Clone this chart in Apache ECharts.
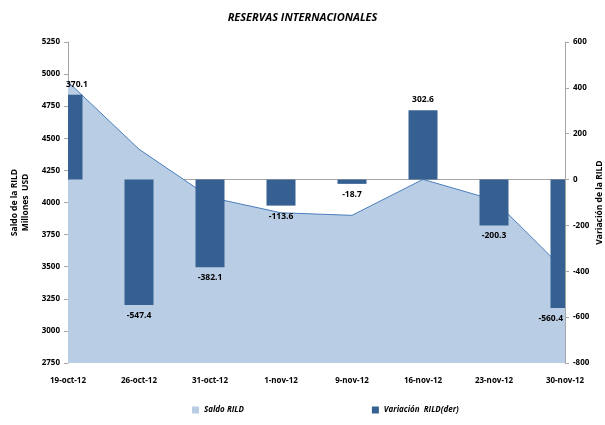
<!DOCTYPE html>
<html>
<head>
<meta charset="utf-8">
<script src="https://cdn.jsdelivr.net/npm/echarts@6/dist/echarts.min.js"></script>
<style>
  html, body { margin: 0; padding: 0; background: #fff; }
  #chart { width: 605px; height: 425px; }
</style>
</head>
<body>
<div id="chart"></div>
<script>
// fechas del eje x
var fechas = ['19-oct-12', '26-oct-12', '31-oct-12', '1-nov-12', '9-nov-12', '16-nov-12', '23-nov-12', '30-nov-12'];
// saldo de la RILD, millones USD (eje izq)
var saldo = [4940, 4415, 4040, 3920, 3900, 4180, 4020, 3470];
// variacion de la RILD (eje der)
var variacion = [370.1, -547.4, -382.1, -113.6, -18.7, 302.6, -200.3, -560.4];

var fontFam = '"Open Sans", "Liberation Sans", sans-serif';
var barColor = '#376092';

// barras como serie custom para poder recortarlas al borde del grid (como en Excel)
function renderBar(params, api) {
    var idx = api.value(0);
    var val = api.value(1);
    var base = api.coord([idx, 0]);
    var end = api.coord([idx, val]);
    var w = 29;
    var cs = params.coordSys;
    var full = {
        x: base[0] - w / 2,
        y: Math.min(base[1], end[1]),
        width: w,
        height: Math.abs(end[1] - base[1])
    };
    var rect = echarts.graphic.clipRectByRect(full, { x: cs.x, y: cs.y, width: cs.width, height: cs.height });
    if (!rect) return;
    // etiqueta: centrada, salvo en barras recortadas donde se pega al borde
    var tx = rect.x + rect.width / 2;
    var align = 'center';
    if (full.x < cs.x) { tx = cs.x - 2; align = 'left'; }
    if (full.x + full.width > cs.x + cs.width) { tx = cs.x + cs.width - 2; align = 'right'; }
    var ty = val >= 0 ? rect.y - 6 : rect.y + rect.height + 6;
    return {
        type: 'group',
        children: [
            {
                type: 'rect',
                shape: rect,
                style: { fill: barColor }
            },
            {
                type: 'text',
                x: tx,
                y: ty,
                style: {
                    text: val.toFixed(1),
                    fill: '#000',
                    font: 'bold 8.5px ' + fontFam,
                    align: align,
                    verticalAlign: val >= 0 ? 'bottom' : 'top'
                },
                z2: 10
            }
        ]
    };
}

var option = {
    animation: false,
    title: {
        text: 'RESERVAS INTERNACIONALES',
        left: 'center',
        top: 7,
        textStyle: { fontSize: 11, fontWeight: 'bold', fontStyle: 'italic', fontFamily: fontFam, color: '#000' }
    },
    legend: {
        bottom: 6,
        left: 187,
        itemGap: 128,
        itemWidth: 7,
        itemHeight: 7,
        icon: 'rect',
        textStyle: { fontSize: 8, fontStyle: 'italic', fontWeight: 'bold', fontFamily: fontFam, color: '#000' },
        data: ['Saldo RILD', 'Variación  RILD(der)']
    },
    grid: { left: 68, right: 40, top: 42, bottom: 62, outerBoundsMode: 'none' },
    xAxis: {
        type: 'category',
        data: fechas,
        boundaryGap: false,
        axisLine: { lineStyle: { color: '#a6a6a6', width: 1 } },
        axisTick: { show: true, length: 4, lineStyle: { color: '#a6a6a6' } },
        axisLabel: { margin: 14, fontSize: 8, fontWeight: 'bold', fontFamily: fontFam, color: '#000' }
    },
    yAxis: [
        {
            type: 'value',
            min: 2750,
            max: 5250,
            interval: 250,
            name: 'Saldo de la RILD\nMillones  USD',
            nameLocation: 'middle',
            nameGap: 37,
            nameRotate: 90,
            nameTextStyle: { fontSize: 8.5, fontWeight: 'bold', fontFamily: fontFam, color: '#000', lineHeight: 11 },
            axisLine: { show: true, lineStyle: { color: '#a6a6a6' } },
            axisTick: { show: true, length: 4, lineStyle: { color: '#a6a6a6' } },
            axisLabel: {
                margin: 8, fontSize: 8, fontWeight: 'bold', fontFamily: fontFam, color: '#000',
                formatter: function (v) { return String(v); }
            },
            splitLine: { show: false }
        },
        {
            type: 'value',
            min: -800,
            max: 600,
            interval: 200,
            name: 'Variación de la RILD',
            nameLocation: 'middle',
            nameGap: 30,
            nameRotate: 90,
            nameMoveOverlap: false,
            nameTextStyle: { fontSize: 8.5, fontWeight: 'bold', fontFamily: fontFam, color: '#000' },
            axisLine: { show: true, lineStyle: { color: '#a6a6a6' } },
            axisTick: { show: true, length: 4, lineStyle: { color: '#a6a6a6' } },
            axisLabel: {
                margin: 8, fontSize: 8, fontWeight: 'bold', fontFamily: fontFam, color: '#000',
                formatter: function (v) { return String(v); }
            },
            splitLine: { show: false }
        }
    ],
    series: [
        {
            name: 'Saldo RILD',
            type: 'line',
            yAxisIndex: 0,
            data: saldo,
            symbol: 'none',
            lineStyle: { color: '#4a7ebb', width: 1 },
            areaStyle: { color: '#b9cde5', opacity: 1 },
            itemStyle: { color: '#b9cde5', borderColor: '#4a7ebb' },
            z: 1
        },
        {
            name: 'Variación  RILD(der)',
            type: 'custom',
            yAxisIndex: 1,
            data: variacion.map(function (v, i) { return [i, v]; }),
            encode: { x: 0, y: 1 },
            renderItem: renderBar,
            itemStyle: { color: barColor },
            z: 3
        }
    ]
};

var myChart = echarts.init(document.getElementById('chart'));
myChart.setOption(option);
</script>
</body>
</html>
